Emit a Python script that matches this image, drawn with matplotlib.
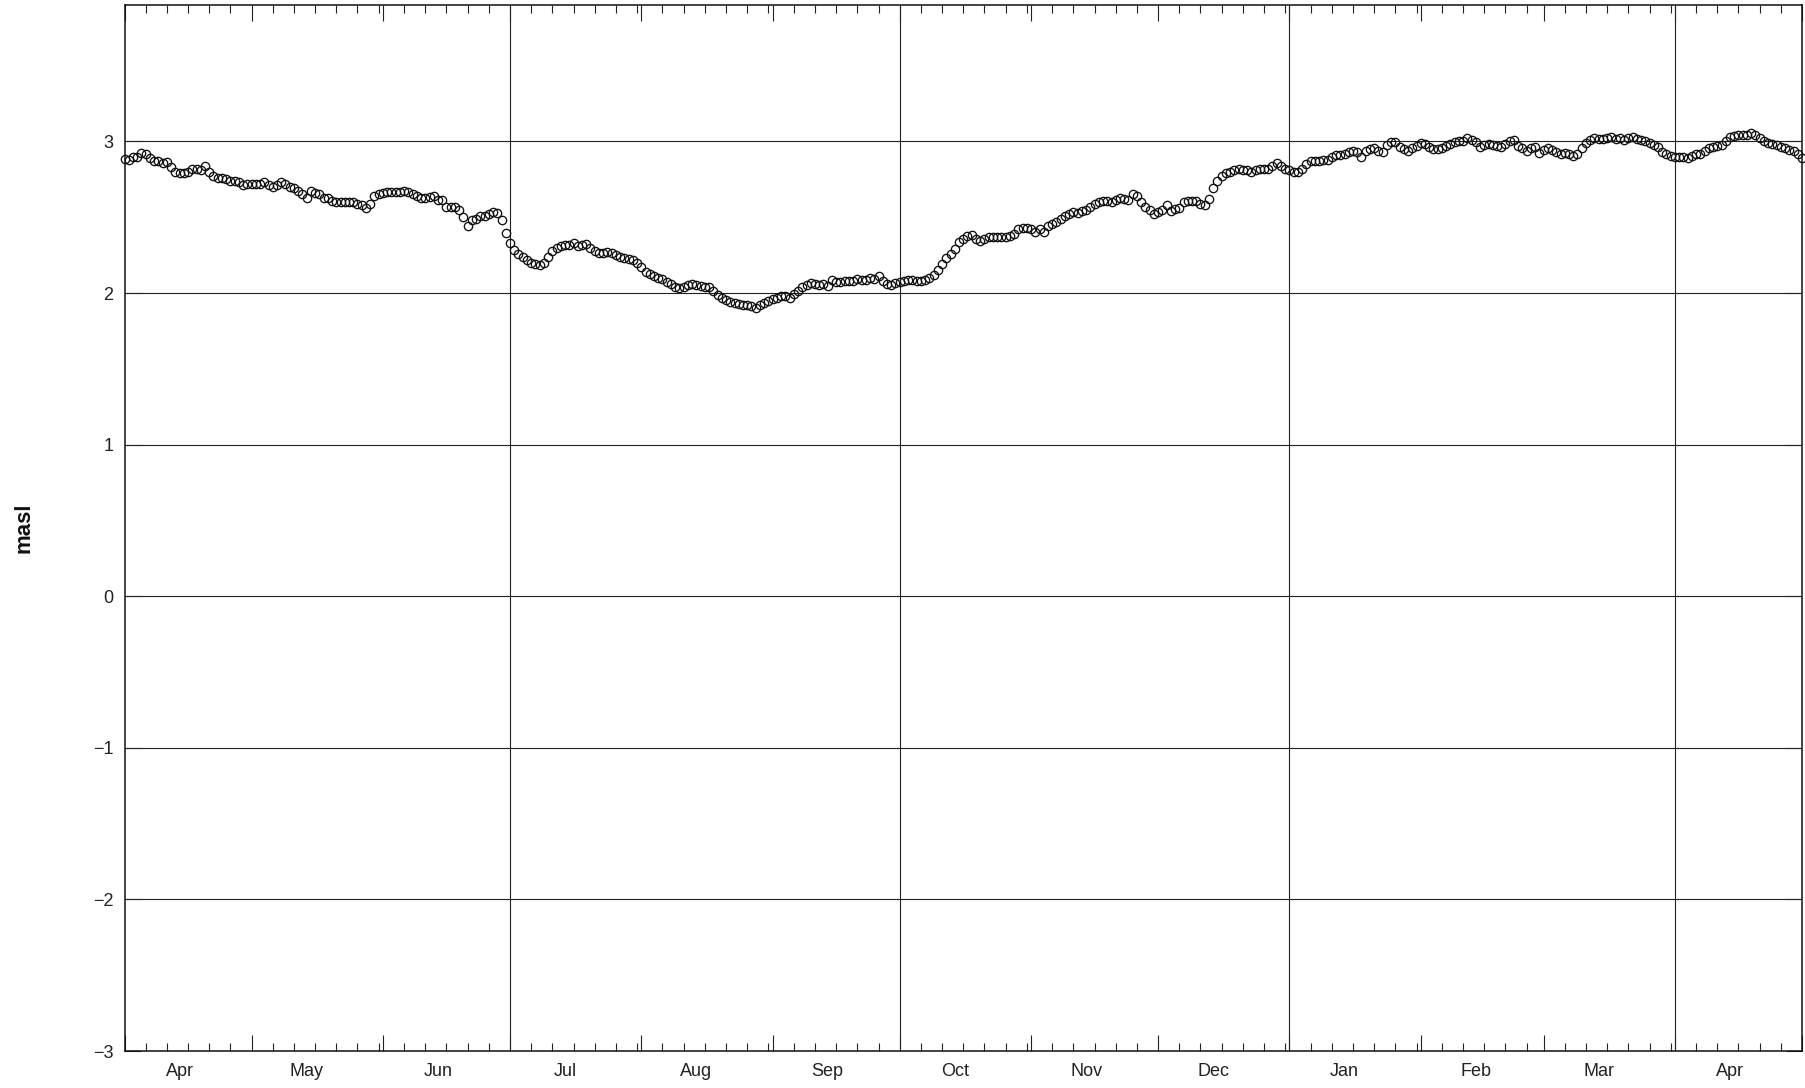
import numpy as np
import pandas as pd
import matplotlib
matplotlib.use("Agg")
import matplotlib.pyplot as plt
import matplotlib.dates as mdates
from matplotlib.ticker import NullFormatter

plt.rcParams['font.family'] = ['Liberation Sans', 'DejaVu Sans']

START = "2015-04-01"
END = "2016-05-01"

# daily water level (m a.s.l.), one list per month
apr_2015 = [2.886, 2.88, 2.90, 2.90, 2.925, 2.92, 2.89, 2.87, 2.87, 2.86,
            2.865, 2.83, 2.80, 2.79, 2.79, 2.80, 2.82, 2.82, 2.81, 2.84,
            2.80, 2.77, 2.76, 2.76, 2.75, 2.74, 2.74, 2.73, 2.71, 2.72]
may_2015 = [2.72, 2.72, 2.72, 2.73, 2.71, 2.70, 2.71, 2.73, 2.72, 2.70,
            2.69, 2.67, 2.65, 2.63, 2.67, 2.66, 2.65, 2.63, 2.63, 2.61,
            2.60, 2.60, 2.60, 2.60, 2.60, 2.59, 2.58, 2.56, 2.59, 2.64,
            2.65]
jun_2015 = [2.66, 2.665, 2.665, 2.665, 2.665, 2.67, 2.665, 2.655, 2.64, 2.63,
            2.625, 2.635, 2.64, 2.615, 2.615, 2.57, 2.565, 2.565, 2.545, 2.50,
            2.445, 2.48, 2.49, 2.505, 2.505, 2.52, 2.535, 2.53, 2.485, 2.395]
jul_2015 = [2.33, 2.285, 2.255, 2.235, 2.22, 2.20, 2.19, 2.185, 2.20, 2.235,
            2.28, 2.295, 2.31, 2.32, 2.32, 2.33, 2.31, 2.32, 2.325, 2.295,
            2.28, 2.265, 2.265, 2.27, 2.265, 2.25, 2.24, 2.23, 2.225, 2.215,
            2.20]
aug_2015 = [2.17, 2.14, 2.125, 2.11, 2.10, 2.09, 2.07, 2.058, 2.037, 2.03,
            2.037, 2.053, 2.06, 2.053, 2.044, 2.037, 2.037, 2.015, 1.987, 1.97,
            1.956, 1.943, 1.934, 1.927, 1.92, 1.92, 1.912, 1.90, 1.92, 1.934,
            1.95]
sep_2015 = [1.96, 1.97, 1.978, 1.978, 1.965, 1.993, 2.015, 2.037, 2.053, 2.066,
            2.06, 2.053, 2.06, 2.044, 2.088, 2.07, 2.075, 2.08, 2.08, 2.08,
            2.092, 2.088, 2.088, 2.097, 2.092, 2.11, 2.08, 2.06, 2.053, 2.066]
oct_2015 = [2.075, 2.08, 2.088, 2.088, 2.08, 2.08, 2.088, 2.10, 2.12, 2.15,
            2.19, 2.23, 2.26, 2.29, 2.335, 2.357, 2.375, 2.38, 2.357, 2.34,
            2.357, 2.368, 2.368, 2.368, 2.368, 2.368, 2.375, 2.39, 2.42, 2.427,
            2.427]
nov_2015 = [2.42, 2.40, 2.423, 2.40, 2.445, 2.455, 2.47, 2.49, 2.51, 2.52,
            2.535, 2.53, 2.54, 2.55, 2.57, 2.59, 2.60, 2.606, 2.606, 2.60,
            2.614, 2.63, 2.62, 2.615, 2.65, 2.64, 2.60, 2.565, 2.545, 2.52]
dec_2015 = [2.535, 2.55, 2.58, 2.54, 2.555, 2.56, 2.60, 2.61, 2.61, 2.605,
            2.59, 2.58, 2.62, 2.69, 2.74, 2.775, 2.79, 2.80, 2.81, 2.815,
            2.81, 2.81, 2.80, 2.81, 2.815, 2.815, 2.82, 2.835, 2.86, 2.84,
            2.82]
jan_2016 = [2.81, 2.80, 2.80, 2.82, 2.85, 2.87, 2.87, 2.87, 2.875, 2.88,
            2.895, 2.91, 2.91, 2.92, 2.93, 2.935, 2.93, 2.90, 2.935, 2.95,
            2.955, 2.94, 2.93, 2.975, 2.995, 2.995, 2.96, 2.95, 2.94, 2.955,
            2.97]
feb_2016 = [2.99, 2.985, 2.96, 2.95, 2.95, 2.955, 2.97, 2.98, 2.995, 3.005,
            3.005, 3.02, 3.01, 2.995, 2.96, 2.975, 2.985, 2.975, 2.97, 2.96,
            2.98, 3.005, 3.008, 2.967, 2.956, 2.94, 2.956, 2.96, 2.923]
mar_2016 = [2.945, 2.956, 2.945, 2.93, 2.916, 2.923, 2.916, 2.907, 2.916, 2.956,
            2.99, 3.01, 3.022, 3.018, 3.018, 3.022, 3.026, 3.018, 3.022, 3.01,
            3.022, 3.026, 3.018, 3.01, 3.00, 2.99, 2.978, 2.96, 2.93, 2.916,
            2.907]
apr_2016 = [2.90, 2.90, 2.90, 2.89, 2.907, 2.916, 2.916, 2.934, 2.956, 2.96,
            2.967, 2.978, 3.00, 3.026, 3.033, 3.04, 3.044, 3.04, 3.055, 3.04,
            3.022, 3.004, 2.99, 2.982, 2.974, 2.96, 2.956, 2.945, 2.934, 2.916]
may_2016 = [2.894]

month_labels = ["Apr", "May", "Jun", "Jul", "Aug", "Sep", "Oct",
                "Nov", "Dec", "Jan", "Feb", "Mar", "Apr"]
quarter_starts = ["2015-07-01", "2015-10-01", "2016-01-01", "2016-04-01"]
y_ticks = [-3, -2, -1, 0, 1, 2, 3]

level = np.concatenate([apr_2015, may_2015, jun_2015, jul_2015, aug_2015,
                        sep_2015, oct_2015, nov_2015, dec_2015, jan_2016,
                        feb_2016, mar_2016, apr_2016, may_2016])
dates = pd.date_range(START, END, freq="D")
assert len(dates) == len(level), (len(dates), len(level))

fig = plt.figure(figsize=(18.05, 10.88), dpi=100)
ax = fig.add_axes([124.5 / 1805, 37 / 1088, 1677.5 / 1805, 1046 / 1088])

ax.plot(dates, level, linestyle="none", marker="o", markersize=6,
        markerfacecolor="none", markeredgecolor="#111111",
        markeredgewidth=0.95, clip_on=False, zorder=3)

ax.set_xlim(pd.Timestamp(START), pd.Timestamp(END))
ax.set_ylim(-3, 3.9)

# horizontal grid at every level, vertical lines only at quarter starts
ax.set_yticks(y_ticks)
ax.yaxis.grid(True, color="#222222", linewidth=0.8)
for q in quarter_starts:
    ax.axvline(pd.Timestamp(q), color="#222222", linewidth=0.8, zorder=1)
ax.set_axisbelow(True)

ax.xaxis.set_major_locator(mdates.MonthLocator())
ax.xaxis.set_minor_locator(mdates.DayLocator(bymonthday=[6, 11, 16, 21, 26, 31]))
ax.xaxis.set_major_formatter(NullFormatter())
ax.xaxis.set_minor_formatter(NullFormatter())
ax.tick_params(axis="x", which="major", direction="in", length=11.5,
               width=0.8, top=True, color="#222222")
ax.tick_params(axis="x", which="minor", direction="in", length=5.5,
               width=0.8, top=True, color="#222222")
ax.tick_params(axis="y", which="major", direction="in", length=11.5,
               width=0.8, right=True, labelsize=13, pad=8,
               color="#222222", labelcolor="#222222")

for side in ["top", "bottom", "left", "right"]:
    ax.spines[side].set_linewidth(1.1)
    ax.spines[side].set_color("#111111")

# month names sit mid-month, below the axis
label_pos = pd.date_range(START, periods=len(month_labels), freq="MS") + pd.Timedelta(days=13)
sec = ax.secondary_xaxis("bottom")
sec.set_xticks(mdates.date2num(label_pos), labels=month_labels)
sec.tick_params(axis="x", length=0, pad=9, labelsize=13, labelcolor="#222222")
sec.spines["bottom"].set_visible(False)

ax.set_ylabel("masl", fontsize=16, fontweight="bold", color="#111111")
ax.yaxis.set_label_coords(-0.0537, 0.5)

fig.savefig("out.png", dpi=100, facecolor="white")
